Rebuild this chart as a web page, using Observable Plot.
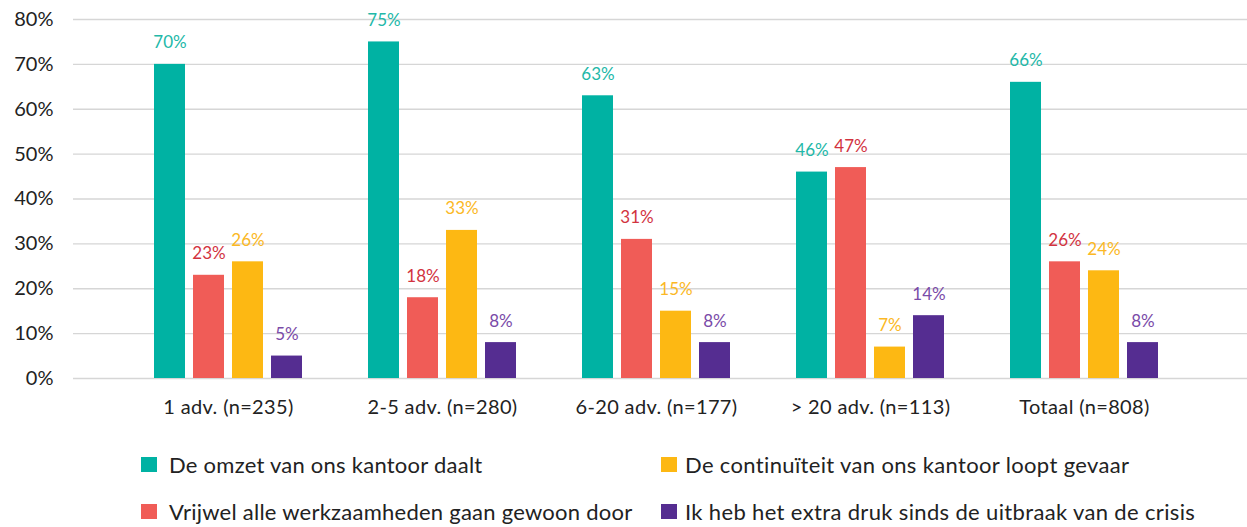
<!DOCTYPE html>
<html>
<head>
<meta charset="utf-8">
<script src="https://cdn.jsdelivr.net/npm/d3@7"></script>
<script src="https://cdn.jsdelivr.net/npm/@observablehq/plot@0.6"></script>
<style>
  html, body { margin: 0; padding: 0; background: #fff; }
  body { width: 1247px; height: 527px; overflow: hidden; font-family: Lato, sans-serif; color: #222; }
  #legend { display: grid; grid-template-columns: 520px 560px; grid-template-rows: 47px 47px; grid-auto-flow: column; margin-left: 141px; padding-top: 9px; }
  .item { display: flex; align-items: center; font-size: 22px; letter-spacing: 0.25px; color: #222; }
  .sw { width: 16px; height: 15px; margin-right: 12px; flex: none; }
  .item.c2 .sw { margin-right: 8px; }
  .item.c2 { letter-spacing: 0.35px; }
  g[aria-label="x-axis tick label"] text { letter-spacing: 0.35px; }
</style>
</head>
<body>
<div id="chart"></div>
<div id="legend"></div>
<script>
const groups = ["1 adv. (n=235)", "2-5 adv. (n=280)", "6-20 adv. (n=177)", "> 20 adv. (n=113)", "Totaal (n=808)"];
const series = [
  "De omzet van ons kantoor daalt",
  "Vrijwel alle werkzaamheden gaan gewoon door",
  "De continuïteit van ons kantoor loopt gevaar",
  "Ik heb het extra druk sinds de uitbraak van de crisis"
];
const omzetDaalt = [70, 75, 63, 46, 66];
const gaanDoor = [23, 18, 31, 47, 26];
const continuiteit = [26, 33, 15, 7, 24];
const extraDruk = [5, 8, 8, 14, 8];
const yTicks = [0, 10, 20, 30, 40, 50, 60, 70, 80];

const barColors = ["#00B2A3", "#F05C57", "#FDB813", "#552D91"];
const labelColors = ["#22B8A8", "#D2333F", "#FBB825", "#7A4BA8"];
const offsets = [-58.5, -19.5, 19.5, 58.5];

const seriesValues = [omzetDaalt, gaanDoor, continuiteit, extraDruk];
const data = groups.flatMap((g, i) => series.map((s, j) => ({group: g, series: s, idx: j, value: seriesValues[j][i] / 100})));

const marks = [
  Plot.ruleY(yTicks.map(t => t / 100), {stroke: "#d6d6d6", strokeWidth: 1.3})
];
series.forEach((s, j) => {
  const sub = data.filter(d => d.idx === j);
  marks.push(Plot.barY(sub, {x: "group", y: "value", fill: barColors[j], dx: offsets[j], insetLeft: 91.5, insetRight: 91.5}));
  marks.push(Plot.text(sub, {x: "group", y: "value", text: d => Math.round(d.value * 100) + "%", dx: offsets[j], dy: -16, lineAnchor: "bottom", fill: labelColors[j], fontSize: 17}));
});
marks.push(Plot.axisY({ticks: yTicks.map(t => t / 100), tickFormat: d3.format(".0%"), tickSize: 0, tickPadding: 20, fontSize: 20, label: null}));
marks.push(Plot.axisX({tickSize: 0, tickPadding: 21, fontSize: 20, label: null}));

const chart = Plot.plot({
  width: 1247,
  height: 432,
  marginLeft: 73,
  marginRight: 0,
  marginTop: 19,
  marginBottom: 54,
  style: {fontFamily: "Lato, sans-serif", color: "#222", background: "#fff"},
  x: {domain: groups, padding: 0, insetLeft: 48, insetRight: 56},
  y: {domain: [0, 0.8]},
  marks
});
document.getElementById("chart").appendChild(chart);

const legend = document.getElementById("legend");
series.forEach((s, j) => {
  const item = document.createElement("div");
  item.className = "item" + (j >= 2 ? " c2" : "");
  const sw = document.createElement("span");
  sw.className = "sw";
  sw.style.background = barColors[j];
  const t = document.createElement("span");
  t.textContent = s;
  item.appendChild(sw);
  item.appendChild(t);
  legend.appendChild(item);
});
</script>
</body>
</html>
